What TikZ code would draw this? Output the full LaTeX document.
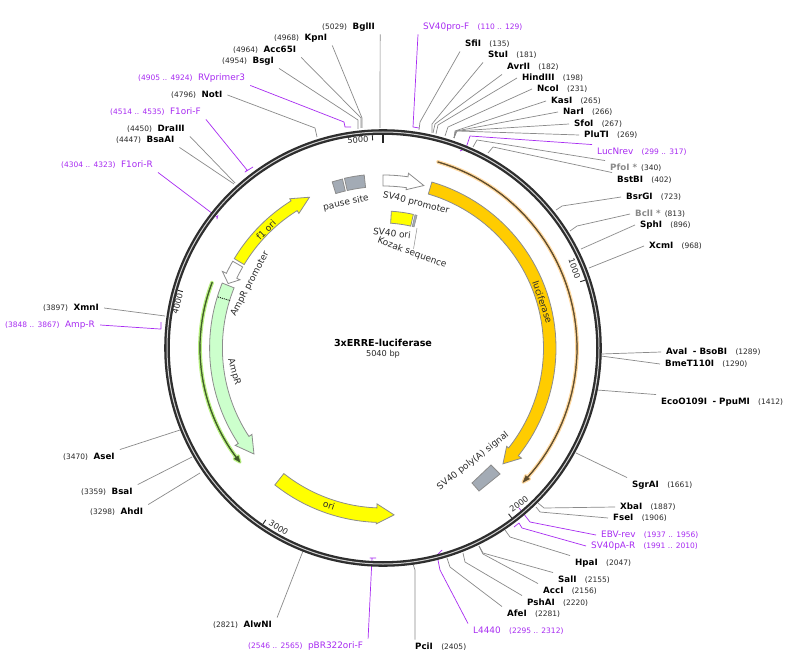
\documentclass[tikz,border=0pt]{standalone}
\usepackage{fontspec}
\setmainfont{DejaVu Sans}
\definecolor{pur}{HTML}{A82CF2}
\definecolor{grl}{HTML}{8A8A8A}
\definecolor{outl}{HTML}{8C8C8C}
\definecolor{txt}{HTML}{2A2A2A}
\definecolor{orf}{HTML}{FFCC00}
\definecolor{ylw}{HTML}{FFFF00}
\definecolor{lgr}{HTML}{CCFFCC}
\definecolor{bluegray}{HTML}{A3ABB5}
\definecolor{orhalo}{HTML}{FFD9A0}
\definecolor{ordark}{HTML}{5E4C2C}
\definecolor{grhalo}{HTML}{B8F080}
\definecolor{grdark}{HTML}{3F5A28}
\newcommand{\nm}[1]{{\fontsize{8.7}{10}\selectfont\bfseries\color{black}#1}}
\newcommand{\nmg}[1]{{\fontsize{8.7}{10}\selectfont\bfseries\color{grl}#1}}
\newcommand{\nr}[1]{{\fontsize{7.5}{10}\selectfont\color{txt}#1}}
\newcommand{\pn}[1]{{\fontsize{8.9}{10}\selectfont\color{pur}#1}}
\newcommand{\pr}[1]{{\fontsize{7.5}{10}\selectfont\color{pur}#1}}
\newcommand{\gp}{\hspace{5.5pt}}
\newcommand{\gq}{\hspace{8.3pt}}
\newcommand{\lb}[4]{\node[lab] (#1) at ({#2-5},#3) {#4};}
\newcommand{\cone}[4]{\coordinate (#2r) at (#4); \draw[#1] (#2.#3) -- (#2r);}
\newcommand{\ctwo}[5]{\coordinate (#2e) at (#4); \coordinate (#2r) at (#5); \draw[#1] (#2.#3) -- (#2e) -- (#2r);}
\newcommand{\cthree}[6]{\coordinate (#2e) at (#4); \coordinate (#2r) at (#5); \coordinate (#2b) at (#6); \draw[#1] (#2.#3) -- (#2e) -- (#2r) -- (#2b);}
% arrow feature: style,t1,t2(body end),t3(tip),rin,rout,head rin,head rout
\newcommand{\fa}[8]{\draw[#1] plot[domain=#2:#3,samples=50] ({383+#6*sin(\x)},{348-#6*cos(\x)}) -- ({383+#8*sin(#3)},{348-#8*cos(#3)}) -- ({383+(#5+#6)/2*sin(#4)},{348-(#5+#6)/2*cos(#4)}) -- ({383+#7*sin(#3)},{348-#7*cos(#3)}) -- plot[domain=#3:#2,samples=50] ({383+#5*sin(\x)},{348-#5*cos(\x)}) -- cycle;}
% block feature: style,t1,t2,rin,rout
\newcommand{\fb}[5]{\draw[#1] plot[domain=#2:#3,samples=20] ({383+#5*sin(\x)},{348-#5*cos(\x)}) -- plot[domain=#3:#2,samples=20] ({383+#4*sin(\x)},{348-#4*cos(\x)}) -- cycle;}
\newcommand{\tk}[4]{\draw[line width=#4,color=black!85] ({383+#2*sin(#1)},{348-#2*cos(#1)}) -- ({383+#3*sin(#1)},{348-#3*cos(#1)});}
\tikzset{
  x=1pt,y=-1pt,
  lab/.style={anchor=west,inner xsep=5pt,inner ysep=3pt,text height=6.5pt,text depth=2pt},
  cg/.style={draw=grl,line width=0.7pt,line join=round},
  cp/.style={draw=pur,line width=0.7pt,line join=round},
  feat/.style={draw=outl,line width=0.8pt,line join=miter},
  ftxt/.style={inner sep=0pt,font=\fontsize{9}{10}\selectfont,text=txt},
  ticktxt/.style={inner sep=0pt,font=\fontsize{8.2}{10}\selectfont,text=txt}
}
\begin{document}
\begin{tikzpicture}
\useasboundingbox (0,0) rectangle (802,660);
\fill[white] (0,0) rectangle (802,660);
% ---- labels
\lb{BglII}{322}{27}{\nr{(5029)}\gp\nm{BglII}}
\lb{KpnI}{274}{38}{\nr{(4968)}\gp\nm{KpnI}}
\lb{Acc65I}{233}{50}{\nr{(4964)}\gp\nm{Acc65I}}
\lb{BsgI}{222}{61}{\nr{(4954)}\gp\nm{BsgI}}
\lb{RVprimer3}{138}{78}{\pr{(4905 .. 4924)}\gp\pn{RVprimer3}}
\lb{NotI}{171}{95}{\nr{(4796)}\gp\nm{NotI}}
\lb{F1oriF}{110}{112}{\pr{(4514 .. 4535)}\gp\pn{F1ori-F}}
\lb{DraIII}{127}{129}{\nr{(4450)}\gp\nm{DraIII}}
\lb{BsaAI}{116}{140}{\nr{(4447)}\gp\nm{BsaAI}}
\lb{F1oriR}{61}{165}{\pr{(4304 .. 4323)}\gp\pn{F1ori-R}}
\lb{XmnI}{43}{308}{\nr{(3897)}\gp\nm{XmnI}}
\lb{AmpRp}{5}{325}{\pr{(3848 .. 3867)}\gp\pn{Amp-R}}
\lb{AseI}{63}{457}{\nr{(3470)}\gp\nm{AseI}}
\lb{BsaI}{81}{492}{\nr{(3359)}\gp\nm{BsaI}}
\lb{AhdI}{90}{512}{\nr{(3298)}\gp\nm{AhdI}}
\lb{AlwNI}{213}{625}{\nr{(2821)}\gp\nm{AlwNI}}
\lb{pBR}{248}{646}{\pr{(2546 .. 2565)}\gp\pn{pBR322ori-F}}
\lb{PciI}{415}{647}{\nm{PciI}\gq\nr{(2405)}}
\lb{L4440}{473}{631}{\pn{L4440}\gq\pr{(2295 .. 2312)}}
\lb{AfeI}{507}{614}{\nm{AfeI}\gq\nr{(2281)}}
\lb{PshAI}{527}{603}{\nm{PshAI}\gq\nr{(2220)}}
\lb{AccI}{543}{591}{\nm{AccI}\gq\nr{(2156)}}
\lb{SalI}{558}{580}{\nm{SalI}\gq\nr{(2155)}}
\lb{HpaI}{575}{563}{\nm{HpaI}\gq\nr{(2047)}}
\lb{SVpA}{591}{546}{\pn{SV40pA-R}\gq\pr{(1991 .. 2010)}}
\lb{EBV}{601}{535}{\pn{EBV-rev}\gq\pr{(1937 .. 1956)}}
\lb{FseI}{613}{518}{\nm{FseI}\gq\nr{(1906)}}
\lb{XbaI}{620}{507}{\nm{XbaI}\gq\nr{(1887)}}
\lb{SgrAI}{632}{485}{\nm{SgrAI}\gq\nr{(1661)}}
\lb{EcoO}{661}{402}{\nm{EcoO109I}\gp\nm{- PpuMI}\gq\nr{(1412)}}
\lb{BmeT}{665}{364}{\nm{BmeT110I}\gq\nr{(1290)}}
\lb{AvaI}{666}{352}{\nm{AvaI}\gp\nm{- BsoBI}\gq\nr{(1289)}}
\lb{XcmI}{649}{246}{\nm{XcmI}\gq\nr{(968)}}
\lb{SphI}{640}{225}{\nm{SphI}\gq\nr{(896)}}
\lb{BclI}{635}{214}{\nmg{BclI *}\hspace{4pt}\nr{(813)}}
\lb{BsrGI}{626}{197}{\nm{BsrGI}\gq\nr{(723)}}
\lb{BstBI}{617}{180}{\nm{BstBI}\gq\nr{(402)}}
\lb{PfoI}{610}{168}{\nmg{PfoI *}\hspace{4pt}\nr{(340)}}
\lb{LucNrev}{597}{152}{\pn{LucNrev}\gq\pr{(299 .. 317)}}
\lb{PluTI}{584}{135}{\nm{PluTI}\gq\nr{(269)}}
\lb{SfoI}{574}{124}{\nm{SfoI}\gq\nr{(267)}}
\lb{NarI}{563}{112}{\nm{NarI}\gq\nr{(266)}}
\lb{KasI}{551}{101}{\nm{KasI}\gq\nr{(265)}}
\lb{NcoI}{537}{89}{\nm{NcoI}\gq\nr{(231)}}
\lb{HindIII}{522}{78}{\nm{HindIII}\gq\nr{(198)}}
\lb{AvrII}{507}{67}{\nm{AvrII}\gq\nr{(182)}}
\lb{StuI}{488}{55}{\nm{StuI}\gq\nr{(181)}}
\lb{SfiI}{465}{44}{\nm{SfiI}\gq\nr{(135)}}
\lb{SVpro}{423}{27}{\pn{SV40pro-F}\gq\pr{(110 .. 129)}}
% ---- connectors
\cone{cg}{BglII}{south east}{380,128}
\ctwo{cg}{KpnI}{south east}{362,118}{362,128}
\ctwo{cg}{Acc65I}{south east}{361,118}{361,128}
\ctwo{cg}{BsgI}{south east}{358,120}{358,129}
\cthree{cp}{RVprimer3}{south east}{344,122}{345,127}{351,127}
\ctwo{cg}{NotI}{east}{315,128}{317,137}
\cthree{cp}{F1oriF}{south east}{247,170}{245,172}{253,167}
\cone{cg}{DraIII}{south east}{235,183}
\cone{cg}{BsaAI}{south east}{234,184}
\cthree{cp}{F1oriR}{south east}{217,217}{217,219}{218,215}
\cone{cg}{XmnI}{east}{165,316}
\cthree{cp}{AmpRp}{east}{160,329}{161,329}{161,322}
\cone{cg}{AseI}{north east}{180,430}
\cone{cg}{BsaI}{north east}{192,457}
\cone{cg}{AhdI}{north east}{200,473}
\cone{cg}{AlwNI}{north east}{303,551}
\cthree{cp}{pBR}{north east}{372,558}{370,558}{376,558}
\coordinate (PciIe) at (415,570); \coordinate (PciIr) at (413,564);
\draw[cg] ([xshift=5pt]PciI.north west) -- (PciIe) -- (PciIr);
\coordinate (L4440e) at (440,570); \coordinate (L4440r) at (437,555); \coordinate (L4440b) at (442,550);
\draw[cp] (L4440.north west) -- (L4440e) -- (L4440r) -- (L4440b);
\ctwo{cg}{AfeI}{north west}{450,567}{447,558}
\ctwo{cg}{PshAI}{north west}{465,562}{463,553}
\ctwo{cg}{AccI}{north west}{483,554}{479,546}
\ctwo{cg}{SalI}{north west}{483,553}{479,546}
\ctwo{cg}{HpaI}{north west}{510,537}{505,530}
\cthree{cp}{SVpA}{west}{522,528}{519,523}{514,527}
\cthree{cp}{EBV}{west}{530,522}{523,513}{519,508}
\ctwo{cg}{FseI}{west}{540,512}{536,507}
\ctwo{cg}{XbaI}{west}{544,508}{538,503}
\cone{cg}{SgrAI}{north west}{576,453}
\cone{cg}{EcoO}{north west}{597,390}
\cone{cg}{BmeT}{west}{601,356}
\cone{cg}{AvaI}{west}{601,354}
\cone{cg}{XcmI}{west}{589,268}
\cone{cg}{SphI}{west}{581,249}
\ctwo{cg}{BclI}{west}{577,226}{570,231}
\ctwo{cg}{BsrGI}{west}{562,206}{556,210}
\ctwo{cg}{BstBI}{north west}{493,147}{488,153}
\ctwo{cg}{PfoI}{north west}{477,140}{473,147}
\cthree{cp}{LucNrev}{north west}{470,136}{466,148}{460,151}
\ctwo{cg}{PluTI}{west}{457,131}{454,138}
\ctwo{cg}{SfoI}{west}{456,131}{454,138}
\ctwo{cg}{NarI}{west}{456,131}{454,138}
\ctwo{cg}{KasI}{west}{455,131}{454,138}
\ctwo{cg}{NcoI}{west}{448,127}{445,136}
\ctwo{cg}{HindIII}{west}{438,125}{436,134}
\ctwo{cg}{AvrII}{south west}{435,124}{433,133}
\ctwo{cg}{StuI}{south west}{432,124}{432,133}
\ctwo{cg}{SfiI}{south west}{420,122}{419,130}
\cthree{cp}{SVpro}{south west}{413,127}{413,127}{419,128}
% ---- backbone ring
\draw[color=black!82,line width=5.6pt] (383,348) circle [radius=216];
\draw[color=black!18,line width=1pt] (383,348) circle [radius=216];
% ---- ticks and scale labels
\tk{0}{205}{214}{1.8pt}
\tk{357.14}{208}{213}{0.9pt}
\tk{71.43}{208}{213}{0.9pt}
\tk{142.86}{208}{213}{0.9pt}
\tk{214.29}{208}{213}{0.9pt}
\tk{285.71}{208}{213}{0.9pt}
\node[ticktxt,rotate=3] (t5000) at (358,140) {5000};
\node[ticktxt,rotate=-71] (t1000) at (574.5,268.5) {1000};
\node[ticktxt,rotate=37] (t2000) at (519,504) {2000};
\node[ticktxt,rotate=-33] (t3000) at (278.5,527.5) {3000};
\node[ticktxt,rotate=75] (t4000) at (177.5,303.5) {4000};
% ---- features
\fa{draw=orhalo,line width=3pt,fill=orhalo,line join=round}{16.4}{131.8}{133.8}{193.6}{194.4}{191.5}{196.5}
\fa{draw=ordark,line width=0.4pt,fill=ordark}{16.4}{131.8}{133.8}{193.6}{194.4}{191.5}{196.5}
\fa{draw=grhalo,line width=3pt,fill=grhalo,line join=round}{291}{233.3}{231.4}{182.6}{183.4}{180.5}{185.5}
\fa{draw=grdark,line width=0.4pt,fill=grdark}{291}{233.3}{231.4}{182.6}{183.4}{180.5}{185.5}
\fa{feat,fill=orf}{16.4}{128.5}{134}{160.5}{173}{158}{177}
\fa{feat,fill=lgr}{292}{236.6}{230.6}{160.6}{173.4}{157}{177}
\draw[black,line width=0.8pt,dash pattern=on 1pt off 1pt] (218,297) -- (230,300.5);
\fa{feat,fill=white}{300}{295.5}{292.6}{162}{173.5}{158.5}{178}
\fa{feat,fill=ylw}{301}{328}{334}{162}{173.5}{158.7}{176}
\fa{feat,fill=ylw}{218.3}{182.2}{176.2}{160}{174.5}{156}{176}
\fa{feat,fill=white}{0}{8.3}{14.1}{162}{173}{160}{176.6}
\fb{feat,fill=bluegray}{-17}{-13.5}{161.5}{173.7}
\fb{feat,fill=bluegray}{-12.8}{-6.2}{161.5}{174}
\fb{feat,fill=ylw}{3.5}{12.8}{125}{137}
\fb{draw=outl,line width=0.5pt,fill=bluegray}{13.5}{14.4}{125}{137}
\draw[feat,fill=bluegray] (472,483) -- (491,465) -- (500,474) -- (479,491) -- cycle;
% ---- feature labels
\node[ftxt,rotate=12] (pause) at (346,203) {pause site};
\node[ftxt,rotate=-14] (svpt) at (416,203) {SV40 promoter};
\node[ftxt,rotate=-7] (svori) at (392,233) {SV40 ori};
\node[ftxt,rotate=-20] (kozak) at (412,253) {Kozak sequence};
\draw[draw=outl,line width=0.5pt] (417,228) -- (kozak.north);
\node[ftxt,rotate=-71] (luc) at (542.5,302) {luciferase};
\node[ftxt,rotate=38] (polya) at (473,461) {SV40 poly(A) signal};
\node[ftxt,rotate=45] (f1t) at (266,230) {f1 ori};
\node[ftxt,rotate=62] (amppt) at (250,284) {AmpR promoter};
\node[ftxt,rotate=-74] (ampt) at (234,372) {AmpR};
\node[ftxt,rotate=-18] (orit) at (329,505) {ori};
\node[inner sep=0pt,font=\fontsize{9.6}{11}\selectfont\bfseries] (title) at (383,343) {3xERRE-luciferase};
\node[inner sep=0pt,font=\fontsize{8.2}{10}\selectfont,text=txt] (bp) at (383,354) {5040 bp};
\end{tikzpicture}
\end{document}
